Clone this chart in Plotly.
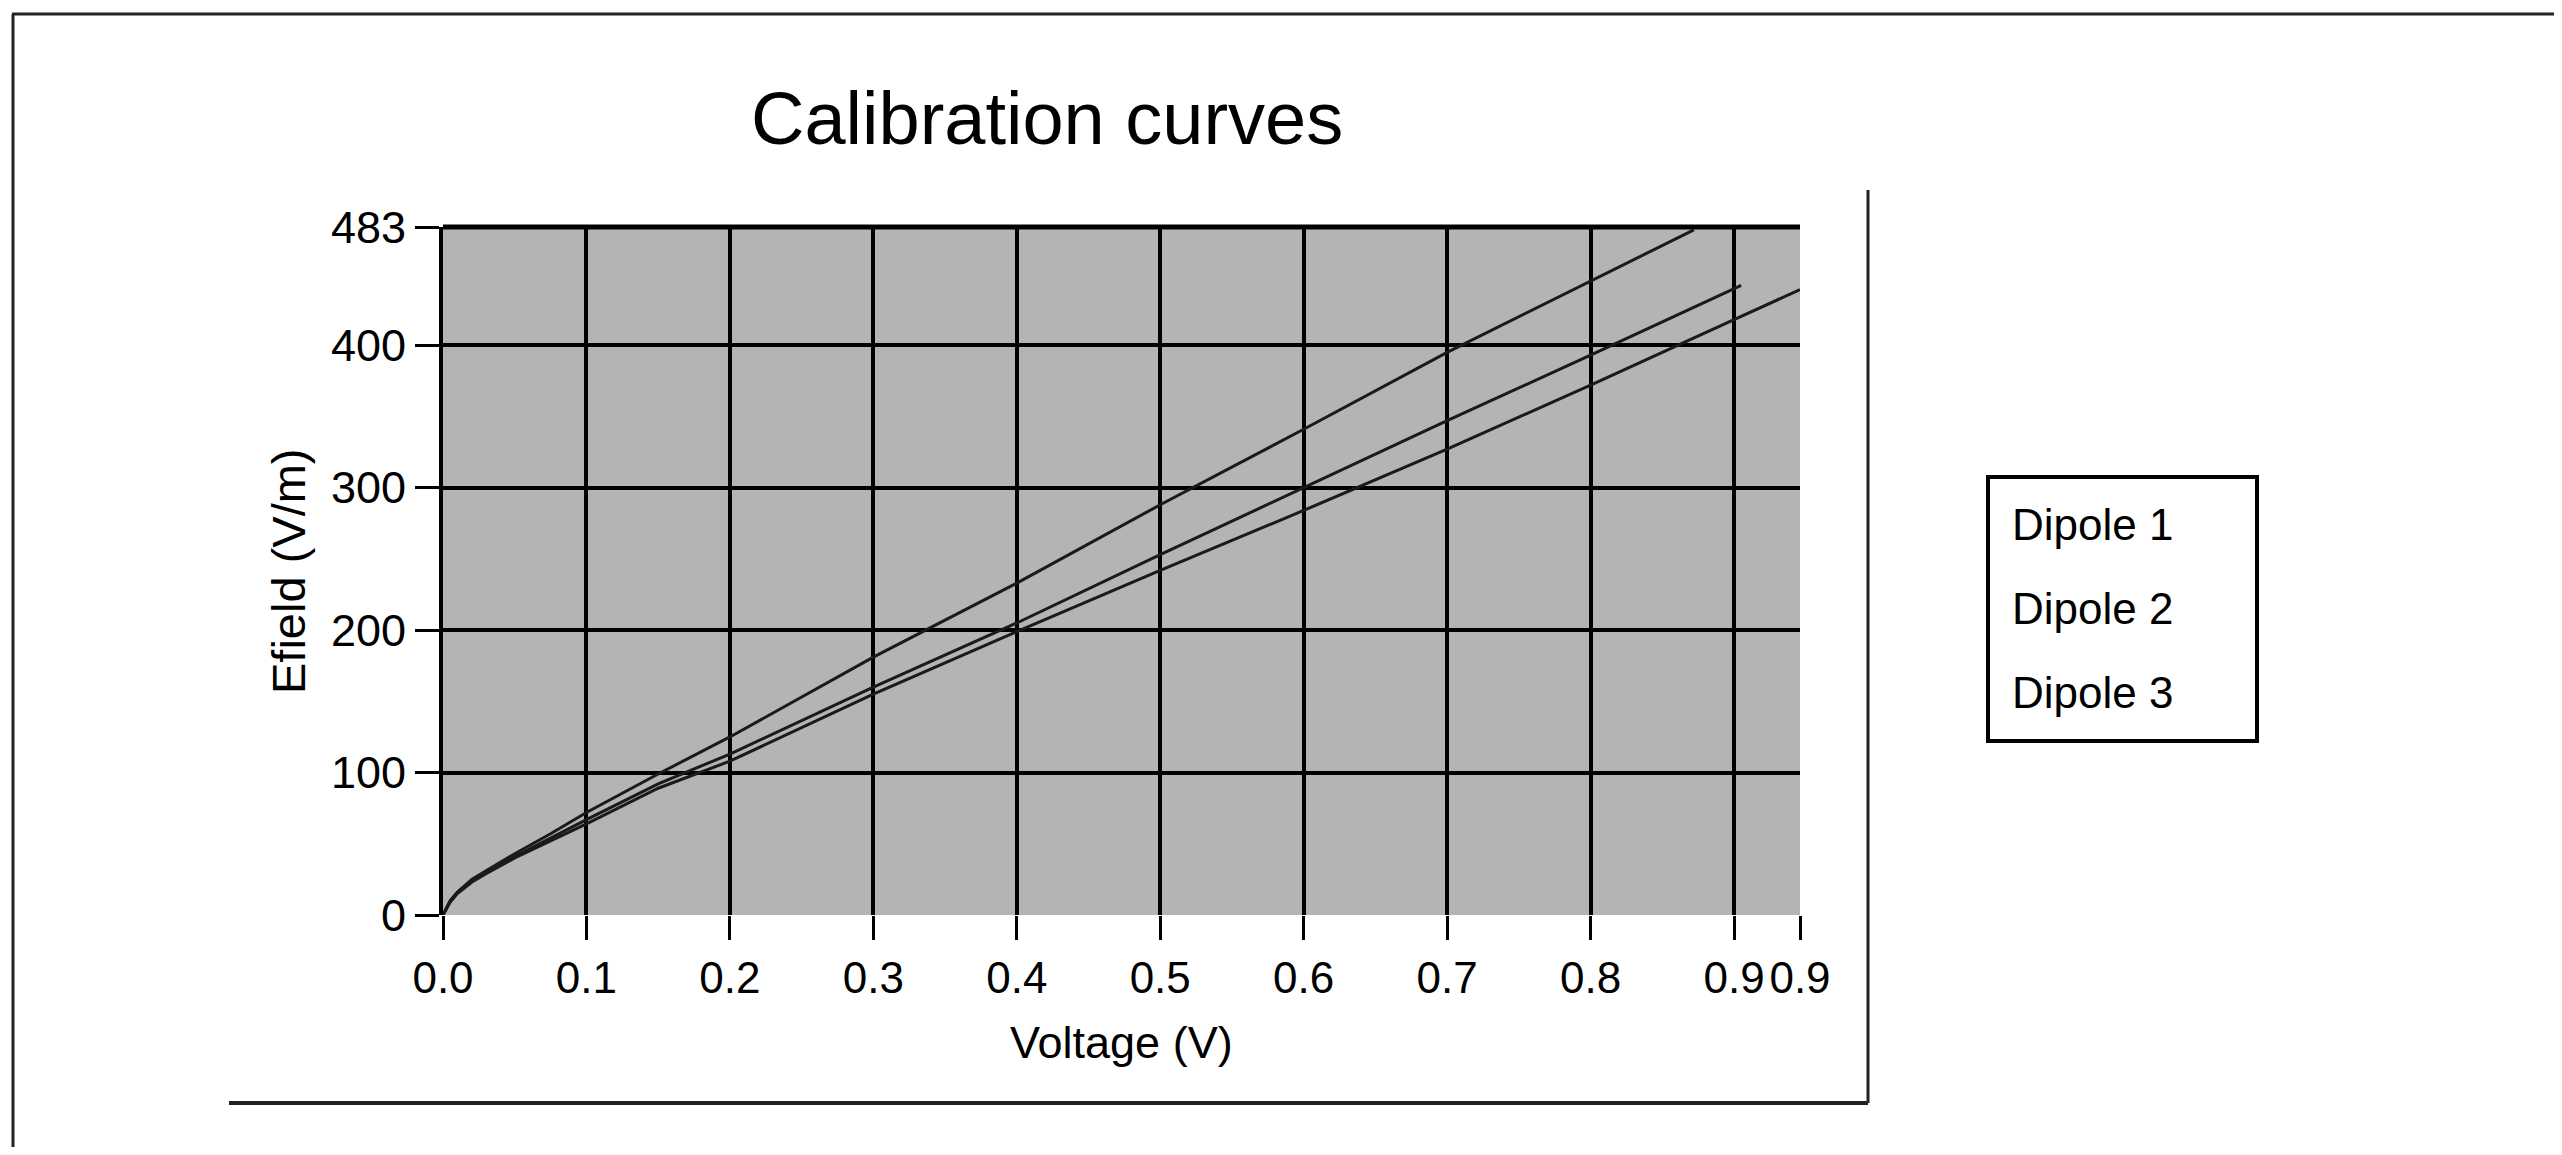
import plotly.graph_objects as go

# ---- data ----
series_names = ["Dipole 1", "Dipole 2", "Dipole 3"]

x_d1 = [0, 0.005, 0.01, 0.02, 0.03, 0.05, 0.075, 0.1, 0.15, 0.2, 0.3, 0.4, 0.5, 0.6, 0.7, 0.8, 0.872]
y_d1 = [0, 10, 16, 25, 31, 43, 57, 72, 99, 125, 181, 233, 288, 341, 395, 445, 481]

x_d2 = [0, 0.005, 0.01, 0.02, 0.03, 0.05, 0.075, 0.1, 0.15, 0.2, 0.3, 0.4, 0.5, 0.6, 0.7, 0.8, 0.905]
y_d2 = [0, 10, 16, 24, 30, 41, 54, 67, 92, 113, 160, 205, 253, 300, 347, 393, 442]

x_d3 = [0, 0.005, 0.01, 0.02, 0.03, 0.05, 0.075, 0.1, 0.15, 0.2, 0.3, 0.4, 0.5, 0.6, 0.7, 0.8, 0.9, 0.946]
y_d3 = [0, 9, 15, 23, 29, 40, 52, 64, 89, 108, 155, 199, 242, 284, 327, 372, 418, 439]

x_tickvals = [0.0, 0.1, 0.2, 0.3, 0.4, 0.5, 0.6, 0.7, 0.8, 0.9, 0.946]
x_ticktext = ["0.0", "0.1", "0.2", "0.3", "0.4", "0.5", "0.6", "0.7", "0.8", "0.9", "0.9"]
y_tickvals = [0, 100, 200, 300, 400, 483]
y_ticktext = ["0", "100", "200", "300", "400", "483"]

title_text = "Calibration curves"
x_title = "Voltage (V)"
y_title = "Efield (V/m)"

# ---- layout geometry (reference pixels; page body has an 8px margin) ----
OFF = 8
W, H = 2562 - 2 * OFF, 1155 - 2 * OFF
L, R, T, B = 443 - OFF, 1800 - OFF, 227 - OFF, 915 - OFF
PW, PH = R - L, B - T


def px(xref_pix):
    return (xref_pix - OFF - L) / PW


def py(yref_pix):
    return (B - (yref_pix - OFF)) / PH


FONT = "Liberation Sans, Arial, sans-serif"

fig = go.Figure()
for xs, ys, nm in zip([x_d1, x_d2, x_d3], [y_d1, y_d2, y_d3], series_names):
    fig.add_trace(go.Scatter(x=xs, y=ys, name=nm, mode="lines",
                             line=dict(color="#1a1a1a", width=3),
                             showlegend=False))

shapes = []
# top border of plot area
shapes.append(dict(type="line", xref="paper", yref="paper", x0=0, x1=1, y0=1, y1=1,
                   line=dict(color="black", width=5)))
# outer frame (top + left)
shapes.append(dict(type="line", xref="paper", yref="paper", x0=px(12), x1=px(2562), y0=py(14), y1=py(14),
                   line=dict(color="#222222", width=3)))
shapes.append(dict(type="line", xref="paper", yref="paper", x0=px(13), x1=px(13), y0=py(14), y1=py(1155),
                   line=dict(color="#222222", width=3)))
# inner panel (right + bottom)
shapes.append(dict(type="line", xref="paper", yref="paper", x0=px(1868), x1=px(1868), y0=py(190), y1=py(1103),
                   line=dict(color="#222222", width=3)))
shapes.append(dict(type="line", xref="paper", yref="paper", x0=px(229), x1=px(1868), y0=py(1103), y1=py(1103),
                   line=dict(color="#222222", width=4)))
# legend box
shapes.append(dict(type="rect", xref="paper", yref="paper", x0=px(1988), x1=px(2257), y0=py(741), y1=py(477),
                   line=dict(color="black", width=4), fillcolor="white"))

annotations = []
for i, nm in enumerate(series_names):
    annotations.append(dict(text=nm, xref="paper", yref="paper", x=px(2010), y=py(524 + i * 84),
                            xanchor="left", yanchor="middle", showarrow=False,
                            font=dict(family=FONT, size=44, color="black")))
annotations.append(dict(text=x_title, xref="paper", yref="paper", x=px(1121), y=py(1042),
                        xanchor="center", yanchor="middle", showarrow=False,
                        font=dict(family=FONT, size=45, color="black")))
annotations.append(dict(text=y_title, xref="paper", yref="paper", x=px(288), y=0.5, textangle=-90,
                        xanchor="center", yanchor="middle", showarrow=False,
                        font=dict(family=FONT, size=47, color="black")))
annotations.append(dict(text=title_text, xref="paper", yref="paper", x=px(1047), y=py(118),
                        xanchor="center", yanchor="middle", showarrow=False,
                        font=dict(family=FONT, size=74, color="black")))

fig.update_layout(
    width=W, height=H,
    margin=dict(l=L, r=W - R, t=T, b=H - B, pad=0),
    paper_bgcolor="white",
    plot_bgcolor="#b4b4b4",
    shapes=shapes,
    annotations=annotations,
    showlegend=False,
    xaxis=dict(range=[0, 0.946], tickmode="array", tickvals=x_tickvals, ticktext=x_ticktext,
               tickangle=0, showgrid=True, gridcolor="black", gridwidth=4,
               zeroline=False, showline=False, ticks="outside", ticklen=24, tickwidth=3,
               tickcolor="black", tickfont=dict(family=FONT, size=44, color="black")),
    yaxis=dict(range=[0, 483], tickmode="array", tickvals=y_tickvals, ticktext=y_ticktext,
               showgrid=True, gridcolor="black", gridwidth=4,
               zeroline=False, showline=True, linecolor="black", linewidth=4,
               ticks="outside", ticklen=24, tickwidth=3, tickcolor="black",
               tickfont=dict(family=FONT, size=45, color="black")),
)

fig.write_html("out.html")
